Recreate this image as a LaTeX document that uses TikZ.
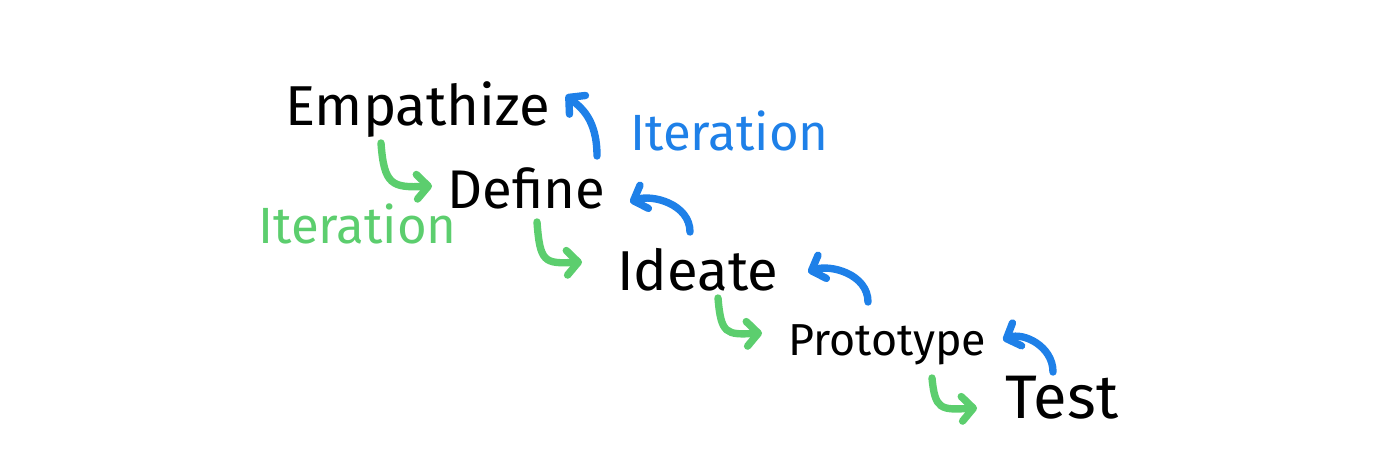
\documentclass[tikz,border=0pt]{standalone}
\usepackage{fontspec}
\setmainfont{Fira Sans}
\usetikzlibrary{arrows.meta,calc}
\definecolor{itgreen}{RGB}{92,206,110}
\definecolor{itblue}{RGB}{30,128,232}
\tikzset{
  stage/.style={inner sep=0pt, anchor=base west, text=black},
  fwd/.style={itgreen, line width=4.2pt, line cap=round, -{Straight Barb[round,length=6.5pt,width=14pt]}},
  back/.style={itblue, line width=4.2pt, line cap=round, -{Straight Barb[round,length=6.5pt,width=14pt]}},
}
\newcommand{\fsz}[1]{\fontsize{#1}{#1}\selectfont}

\begin{document}
\begin{tikzpicture}[x=0.02cm,y=-0.02cm]
  \useasboundingbox (0,0) rectangle (1400,463);
  % the five stages
  \node[stage, font=\fsz{32}] (emp) at (285,125) {Empathize};
  \node[stage, font=\fsz{31}] (def) at (447,208) {Define};
  \node[stage, font=\fsz{32}] (ide) at (617,290) {Ideate};
  \node[stage, font=\fsz{25.5}] (pro) at (788,355) {Prototype};
  \node[stage, font=\fsz{35}] (tst) at (1005,418) {Test};
  % iteration labels
  \node[stage, text=itblue, font=\fsz{29}] (itb) at (630,150) {Iteration};
  \node[stage, text=itgreen, font=\fsz{29}] (itg) at (258,243) {Iteration};
  % forward steps
  \draw[fwd] ($(emp.base west)+(96,18)$) .. controls +(3,42) and +(-40,2) .. ($(def.base west)+(-15,-22)$);
  \draw[fwd] ($(def.base west)+(90,14)$) .. controls +(3,40) and +(-38,2) .. ($(ide.base west)+(-35,-28)$);
  \draw[fwd] ($(ide.base west)+(101,8)$) .. controls +(3,36) and +(-36,2) .. ($(pro.base west)+(-26,-22)$);
  \draw[fwd] ($(pro.base west)+(144,23)$) .. controls +(3,32) and +(-36,2) .. ($(tst.base west)+(-28,-10)$);
  % iterations back
  \draw[back] ($(def.base west)+(150,-52)$) .. controls +(0,-38) and +(14,12) .. ($(emp.base west)+(281,-30)$);
  \draw[back] ($(ide.base west)+(73,-58)$) .. controls +(0,-28) and +(22,-8) .. ($(def.base west)+(183,-6)$);
  \draw[back] ($(pro.base west)+(80,-53)$) .. controls +(0,-28) and +(22,-8) .. ($(ide.base west)+(191,-18)$);
  \draw[back] ($(tst.base west)+(48,-46)$) .. controls +(0,-26) and +(20,-8) .. ($(pro.base west)+(215,-15)$);
\end{tikzpicture}
\end{document}
